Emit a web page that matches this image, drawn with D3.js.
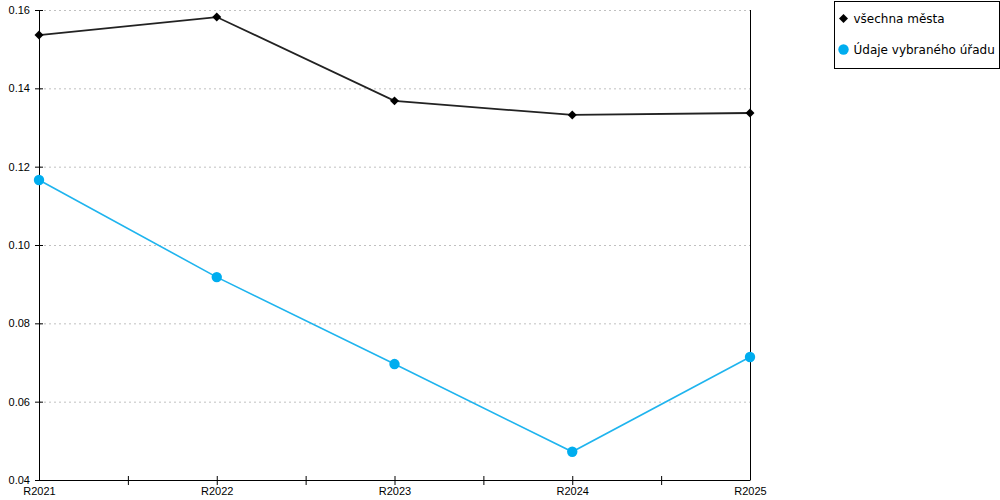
<!DOCTYPE html>
<html>
<head>
<meta charset="utf-8">
<script src="https://cdn.jsdelivr.net/npm/d3@7"></script>
<style>
  body { margin: 0; background: #fff; }
  svg { display: block; font-family: "DejaVu Sans", Verdana, sans-serif; }
  .grid line { stroke: #c0c0c0; stroke-dasharray: 2,3; }
  .grid .domain { display: none; }
  .axis text { font-size: 11px; fill: #000; }
  .axis line, .axis path { stroke: #000; }
</style>
</head>
<body>
<div id="chart"></div>
<script>
var categories = ['R2021', 'R2022', 'R2023', 'R2024', 'R2025']
var allCities = [0.1536, 0.1582, 0.1368, 0.1332, 0.1337]
var selectedOffice = [0.1166, 0.0918, 0.0696, 0.0472, 0.0714]
var yTicks = [0.04, 0.06, 0.08, 0.10, 0.12, 0.14, 0.16]
var seriesNames = ['všechna města', 'Údaje vybraného úřadu']

var margin = { top: 10, left: 39 }
var width = 711
var height = 470

var svg = d3.select('#chart').append('svg')
	.attr('width', 1000)
	.attr('height', 500)

var x = d3.scalePoint()
	.domain(categories)
	.range([0, width])

var y = d3.scaleLinear()
	.domain([0.04, 0.16])
	.range([height, 0])

var g = svg.append('g')
	.attr('transform', 'translate(' + margin.left + ',' + margin.top + ')')

// dashed horizontal grid
g.append('g')
	.attr('class', 'grid')
	.call(d3.axisLeft(y).tickValues(yTicks).tickSize(-width).tickFormat(''))

// right border
g.append('line')
	.attr('x1', width + 0.5).attr('x2', width + 0.5)
	.attr('y1', 0).attr('y2', height)
	.attr('stroke', '#000')

// y axis
var yAxis = g.append('g')
	.attr('class', 'axis')
	.call(d3.axisLeft(y).tickValues(yTicks).tickSizeOuter(0).tickSizeInner(4).tickPadding(5)
		.tickFormat(d3.format('.2f')))
yAxis.selectAll('.tick line').attr('x2', 4).attr('x1', -4)

// x axis: ticks halfway between categories, crossing the line
var xAxis = g.append('g')
	.attr('class', 'axis')
	.attr('transform', 'translate(0,' + height + ')')
	.call(d3.axisBottom(x).tickSizeOuter(0).tickSize(0).tickPadding(5))
xAxis.selectAll('.tick text').attr('dy', '0.9em')
var step = x.step()
xAxis.selectAll('.minor').data(categories.slice(1))
	.enter().append('line')
	.attr('x1', function(d) { return x(d) - step / 2 + 0.5 })
	.attr('x2', function(d) { return x(d) - step / 2 + 0.5 })
	.attr('y1', -4).attr('y2', 5)
	.attr('stroke', '#000')
xAxis.selectAll('.major').data(categories.slice(1, -1))
	.enter().append('line')
	.attr('x1', function(d) { return x(d) + 0.5 })
	.attr('x2', function(d) { return x(d) + 0.5 })
	.attr('y1', -4).attr('y2', 5)
	.attr('stroke', '#000')

var line = d3.line()
	.x(function(d, i) { return x(categories[i]) })
	.y(function(d) { return y(d) })

// blue series
g.append('path')
	.datum(selectedOffice)
	.attr('fill', 'none')
	.attr('stroke', '#1fb4ee')
	.attr('stroke-width', 1.6)
	.attr('d', line)
g.selectAll('.dot').data(selectedOffice)
	.enter().append('circle')
	.attr('cx', function(d, i) { return x(categories[i]) })
	.attr('cy', function(d) { return y(d) })
	.attr('r', 5.2)
	.attr('fill', '#00adef')

// black series
g.append('path')
	.datum(allCities)
	.attr('fill', 'none')
	.attr('stroke', '#222')
	.attr('stroke-width', 1.8)
	.attr('d', line)
var diamond = d3.symbol().type(d3.symbolSquare).size(40)
g.selectAll('.dia').data(allCities)
	.enter().append('path')
	.attr('d', diamond)
	.attr('transform', function(d, i) { return 'translate(' + x(categories[i]) + ',' + y(d) + ') rotate(45)' })
	.attr('fill', '#000')

// legend
var legend = svg.append('g')
	.attr('transform', 'translate(834.5,1.5)')
legend.append('rect')
	.attr('width', 165).attr('height', 67)
	.attr('fill', '#fff').attr('stroke', '#000')
legend.append('path')
	.attr('d', diamond)
	.attr('transform', 'translate(9,17) rotate(45)')
	.attr('fill', '#000')
legend.append('circle')
	.attr('cx', 9).attr('cy', 48).attr('r', 5.2)
	.attr('fill', '#00adef')
legend.selectAll('.ltext').data(seriesNames)
	.enter().append('text')
	.attr('x', 19)
	.attr('y', function(d, i) { return 17 + i * 31 })
	.attr('dy', '0.35em')
	.style('font-size', '12px')
	.text(function(d) { return d })
</script>
</body>
</html>
